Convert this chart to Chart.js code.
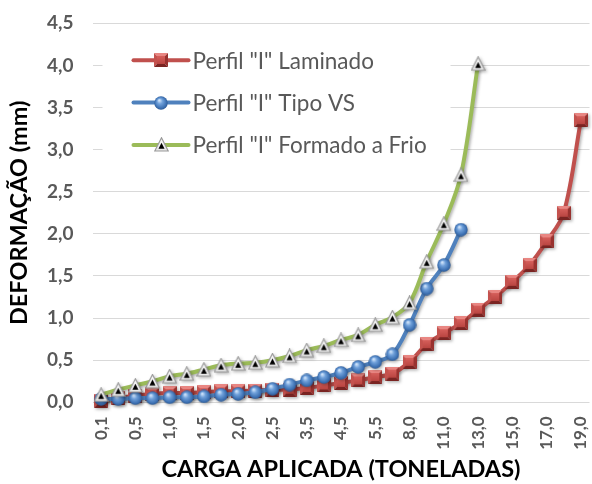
<!DOCTYPE html>
<html><head><meta charset="utf-8">
<script src="https://cdn.jsdelivr.net/npm/chart.js@4.4.1/dist/chart.umd.min.js"></script>
<style>html,body{margin:0;padding:0;background:#fff}#wrap{width:592px;height:484px}</style>
</head><body><div id="wrap"><canvas id="c" width="592" height="484"></canvas></div>
<script>
// ---- data ----
const categories = ['0,1','0,3','0,5','0,8','1,0','1,3','1,5','1,8','2,0','2,3','2,5','3,0','3,5','4,0','4,5','5,0','5,5','7,0','8,0','10,0','11,0','12,0','13,0','14,0','15,0','16,0','17,0','18,0','19,0'];
const seriesNames = ['Perfil "I" Laminado', 'Perfil "I" Tipo VS', 'Perfil "I" Formado a Frio'];
const laminado = [0.02,0.05,0.08,0.10,0.11,0.11,0.12,0.13,0.13,0.14,0.15,0.15,0.17,0.20,0.23,0.26,0.30,0.34,0.48,0.69,0.82,0.94,1.10,1.25,1.43,1.63,1.91,2.25,3.35];
const tipoVS = [0.04,0.04,0.05,0.05,0.06,0.06,0.07,0.09,0.10,0.12,0.16,0.21,0.26,0.30,0.35,0.42,0.48,0.57,0.92,1.35,1.63,2.05];
const formadoFrio = [0.09,0.15,0.20,0.25,0.31,0.34,0.39,0.44,0.46,0.47,0.50,0.55,0.62,0.67,0.74,0.80,0.92,1.01,1.18,1.67,2.12,2.70,4.02];
const yMin = 0, yMax = 4.5, yStep = 0.5;
const xTitle = 'CARGA APLICADA (TONELADAS)';
const yTitle = 'DEFORMAÇÃO (mm)';

// ---- marker images ----
function squareMarker(s){
  const c=document.createElement('canvas'); c.width=c.height=s; const g=c.getContext('2d'); const b=3;
  g.fillStyle='#E98682'; g.beginPath(); g.moveTo(0,0); g.lineTo(s,0); g.lineTo(s-b,b); g.lineTo(b,b); g.closePath(); g.fill();
  g.fillStyle='#C4524E'; g.beginPath(); g.moveTo(0,0); g.lineTo(b,b); g.lineTo(b,s-b); g.lineTo(0,s); g.closePath(); g.fill();
  g.fillStyle='#99322F'; g.beginPath(); g.moveTo(s,0); g.lineTo(s,s); g.lineTo(s-b,s-b); g.lineTo(s-b,b); g.closePath(); g.fill();
  g.fillStyle='#7A2422'; g.beginPath(); g.moveTo(0,s); g.lineTo(s,s); g.lineTo(s-b,s-b); g.lineTo(b,s-b); g.closePath(); g.fill();
  const gr=g.createLinearGradient(0,b,0,s-b); gr.addColorStop(0,'#D65F5B'); gr.addColorStop(1,'#B94541');
  g.fillStyle=gr; g.fillRect(b,b,s-2*b,s-2*b);
  return c;
}
function sphereMarker(s){
  const c=document.createElement('canvas'); c.width=c.height=s; const g=c.getContext('2d'); const r=s/2;
  const gr=g.createRadialGradient(r*0.75,r*0.6,0.5,r,r,r);
  gr.addColorStop(0,'#CFE3FA'); gr.addColorStop(0.35,'#6FA0DA'); gr.addColorStop(0.8,'#3C70B2'); gr.addColorStop(1,'#2A5690');
  g.fillStyle=gr; g.beginPath(); g.arc(r,r,r-0.3,0,Math.PI*2); g.fill();
  return c;
}
function triangleMarker(s){
  const c=document.createElement('canvas'); c.width=c.height=s; const g=c.getContext('2d');
  const gr=g.createLinearGradient(0,0,0,s); gr.addColorStop(0,'#FFFFFF'); gr.addColorStop(1,'#E4E4E4');
  g.fillStyle=gr; g.strokeStyle='#9A9A9A'; g.lineWidth=1.2;
  g.beginPath(); g.moveTo(s/2,0.8); g.lineTo(s-0.8,s-1); g.lineTo(0.8,s-1); g.closePath(); g.fill(); g.stroke();
  g.fillStyle='#000'; g.beginPath(); g.moveTo(s/2,s*0.38); g.lineTo(s*0.7,s-3.2); g.lineTo(s*0.3,s-3.2); g.closePath(); g.fill();
  return c;
}
const mkSquare = squareMarker(14), mkSphere = sphereMarker(14), mkTri = triangleMarker(15);

const legendPlugin = {
  id:'inLegend',
  beforeDatasetsDraw(chart){
    const a=chart.chartArea, ctx=chart.ctx; ctx.save(); ctx.fillStyle='#fff';
    ctx.fillRect(a.left+10, a.top+16, 348, 130); ctx.restore();
  },
  afterDatasetsDraw(chart){
    const a=chart.chartArea, ctx=chart.ctx; ctx.save();
    chart.data.datasets.forEach((ds,i)=>{
      const y=a.top+37+i*42.3, x0=a.left+41, x1=a.left+96, xm=(x0+x1)/2;
      ctx.strokeStyle=ds.borderColor; ctx.lineWidth=4; ctx.lineCap='round';
      ctx.beginPath(); ctx.moveTo(x0,y); ctx.lineTo(x1,y); ctx.stroke();
      const img=ds.pointStyle; ctx.drawImage(img, Math.round(xm-img.width/2), Math.round(y-img.height/2));
      ctx.fillStyle='#595959'; ctx.font='22.5px Lato'; ctx.textBaseline='middle'; ctx.textAlign='left';
      ctx.fillText(ds.label, a.left+100, y+1);
    });
    ctx.restore();
  }
};
const shadowPlugin = {
  id:'lineShadow',
  beforeDatasetDraw(chart){ const ctx=chart.ctx; ctx.save(); ctx.shadowColor='rgba(0,0,0,0.3)'; ctx.shadowBlur=3; ctx.shadowOffsetX=1.5; ctx.shadowOffsetY=1.5; },
  afterDatasetDraw(chart){ chart.ctx.restore(); }
};

function ds(label, data, color, marker, order){
  return {label, data, borderColor:color, backgroundColor:color, borderWidth:4, pointStyle:marker,
    pointRadius:7, tension:0.35, clip:false, order};
}

new Chart(document.getElementById('c'), {
  type:'line',
  data:{ labels:categories, datasets:[
    ds(seriesNames[0], laminado, '#C0504D', mkSquare, 2),
    ds(seriesNames[1], tipoVS, '#4F81BD', mkSphere, 1),
    ds(seriesNames[2], formadoFrio, '#9BBB59', mkTri, 0)
  ]},
  options:{
    responsive:false, animation:false, devicePixelRatio:1,
    layout:{autoPadding:false, padding:{top:23.3, right:2.5, left:0, bottom:0}},
    plugins:{legend:{display:false}, tooltip:{enabled:false}},
    scales:{
      x:{ offset:true,
        grid:{display:false, drawTicks:false}, border:{display:false},
        ticks:{autoSkip:false, maxRotation:90, minRotation:90, padding:14, color:'#595959',
          font:{family:'Lato', size:17, weight:'bold'},
          callback:function(v,i){ return i%2===0 ? this.getLabelForValue(v) : ''; }},
        title:{display:true, text:xTitle, color:'#000', font:{family:'Lato', size:23.5, weight:'bold'}, padding:{top:0,bottom:0}},
        afterFit(s){ s.height=81.7; s.paddingLeft=0; s.paddingRight=0; }
      },
      y:{ min:yMin, max:yMax,
        grid:{color:'#D9D9D9', lineWidth:1, drawTicks:false}, border:{display:false},
        ticks:{stepSize:yStep, padding:19, color:'#595959', font:{family:'Lato', size:19, weight:'bold'},
          callback:(v)=>v.toFixed(1).replace('.',',')},
        title:{display:true, text:yTitle, color:'#000', font:{family:'Lato', size:23.5, weight:'bold'}, padding:{top:5,bottom:0}},
        afterFit(s){ s.width=92.5; s.paddingTop=0; s.paddingBottom=0; }
      }
    }
  },
  plugins:[shadowPlugin, legendPlugin]
});
</script></body></html>
